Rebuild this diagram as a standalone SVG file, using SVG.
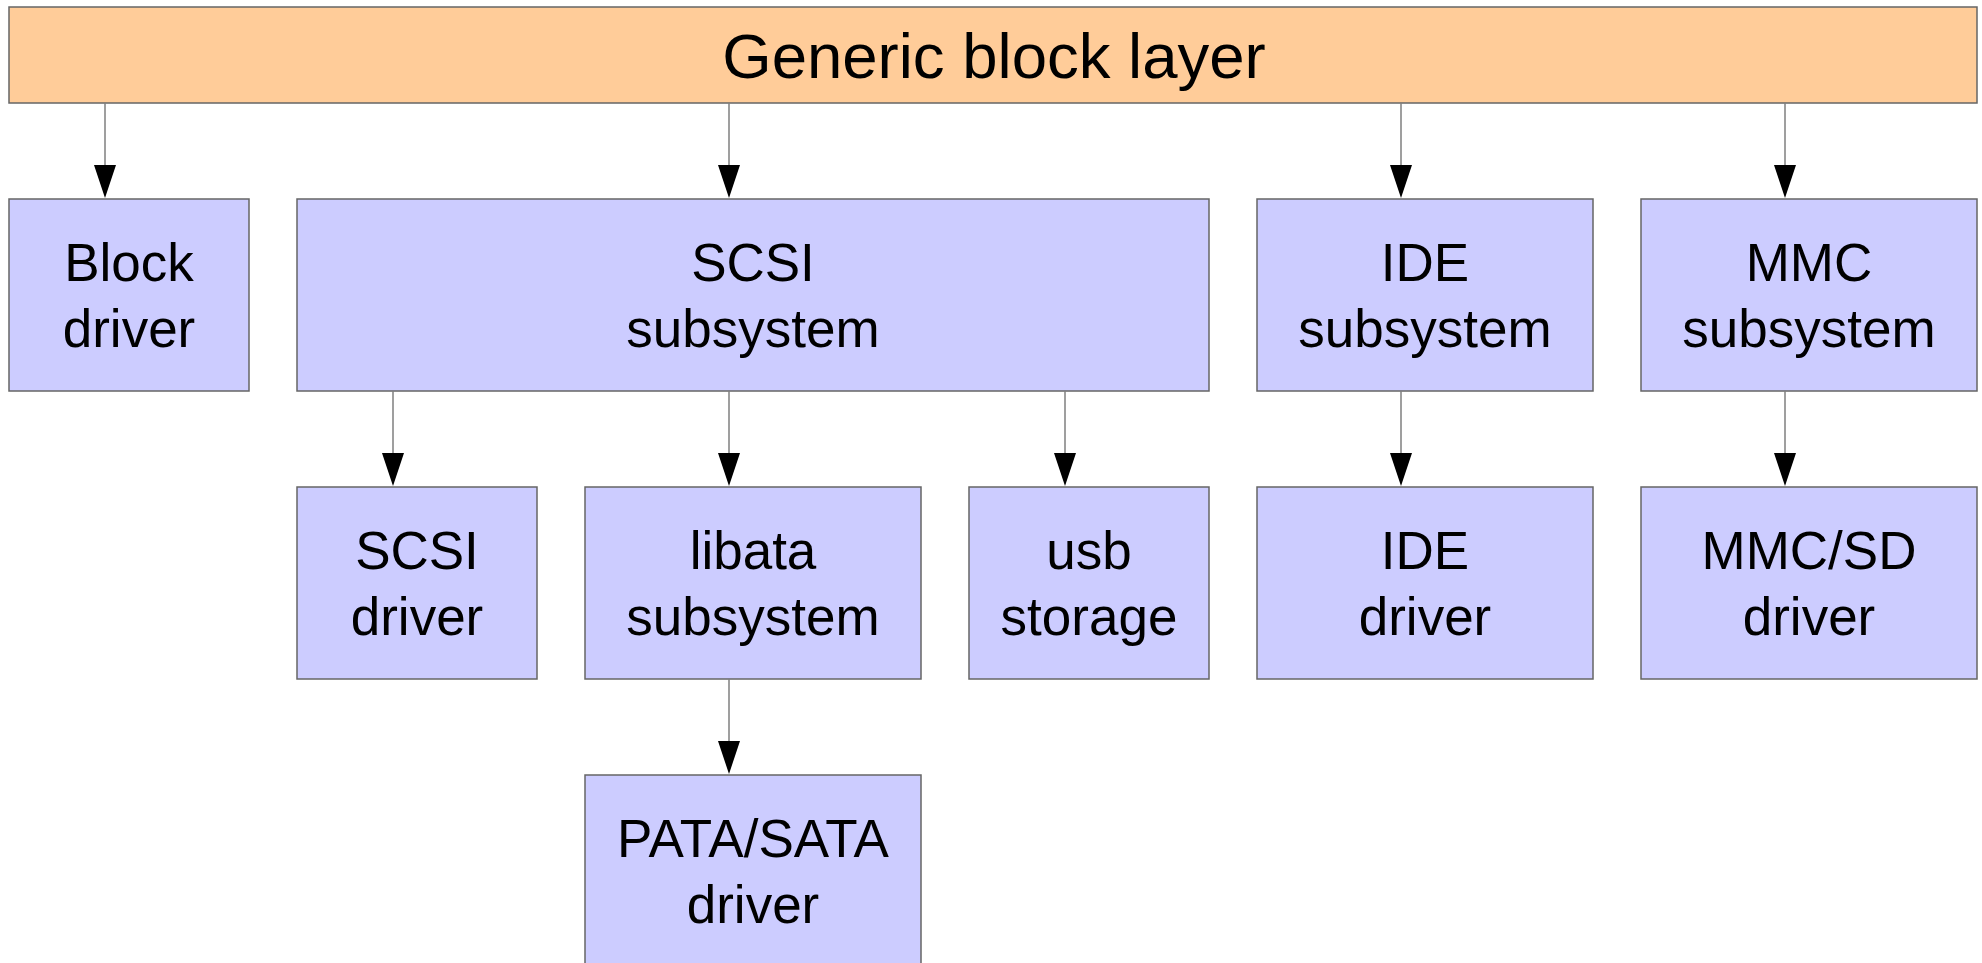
<svg xmlns="http://www.w3.org/2000/svg" width="1982" height="963" viewBox="0 0 1982 963">
<style>
.bar{fill:#ffcc99;stroke:#666666;stroke-width:1.5}
.box{fill:#ccccff;stroke:#666666;stroke-width:1.5}
.t{font-family:"Liberation Sans",Arial,sans-serif;font-size:53px;fill:#000;text-anchor:middle}
.title{font-family:"Liberation Sans",Arial,sans-serif;font-size:63.5px;fill:#000;text-anchor:middle}
.c{stroke:#808080;stroke-width:1.5;fill:none}
.h{fill:#000}
</style>
<rect width="1982" height="963" fill="#ffffff"/>
<g id="generic">
<rect class="bar" x="9" y="7" width="1968" height="96"/>
<text class="title" x="994" y="78">Generic block layer</text>
</g>
<g id="blockdriver">
<rect class="box" x="9" y="199" width="240" height="192"/>
<text class="t" x="129" y="281">Block</text><text class="t" x="129" y="347">driver</text>
</g>
<g id="scsisub">
<rect class="box" x="297" y="199" width="912" height="192"/>
<text class="t" x="753" y="281">SCSI</text><text class="t" x="753" y="347">subsystem</text>
</g>
<g id="idesub">
<rect class="box" x="1257" y="199" width="336" height="192"/>
<text class="t" x="1425" y="281">IDE</text><text class="t" x="1425" y="347">subsystem</text>
</g>
<g id="mmcsub">
<rect class="box" x="1641" y="199" width="336" height="192"/>
<text class="t" x="1809" y="281">MMC</text><text class="t" x="1809" y="347">subsystem</text>
</g>
<g id="scsidriver">
<rect class="box" x="297" y="487" width="240" height="192"/>
<text class="t" x="417" y="569">SCSI</text><text class="t" x="417" y="635">driver</text>
</g>
<g id="libata">
<rect class="box" x="585" y="487" width="336" height="192"/>
<text class="t" x="753" y="569">libata</text><text class="t" x="753" y="635">subsystem</text>
</g>
<g id="usb">
<rect class="box" x="969" y="487" width="240" height="192"/>
<text class="t" x="1089" y="569">usb</text><text class="t" x="1089" y="635">storage</text>
</g>
<g id="idedriver">
<rect class="box" x="1257" y="487" width="336" height="192"/>
<text class="t" x="1425" y="569">IDE</text><text class="t" x="1425" y="635">driver</text>
</g>
<g id="mmcsd">
<rect class="box" x="1641" y="487" width="336" height="192"/>
<text class="t" x="1809" y="569">MMC/SD</text><text class="t" x="1809" y="635">driver</text>
</g>
<g id="pata">
<rect class="box" x="585" y="775" width="336" height="200"/>
<text class="t" x="753" y="857">PATA/SATA</text><text class="t" x="753" y="923">driver</text>
</g>
<g id="connectors">
<path class="c" d="M105 103V166M729 103V166M1401 103V166M1785 103V166M393 391V454M729 391V454M1065 391V454M1401 391V454M1785 391V454M729 679V742"/>
<path class="h" d="M94 165h22l-11 33zM718 165h22l-11 33zM1390 165h22l-11 33zM1774 165h22l-11 33zM382 453h22l-11 33zM718 453h22l-11 33zM1054 453h22l-11 33zM1390 453h22l-11 33zM1774 453h22l-11 33zM718 741h22l-11 33z"/>
</g>
</svg>
